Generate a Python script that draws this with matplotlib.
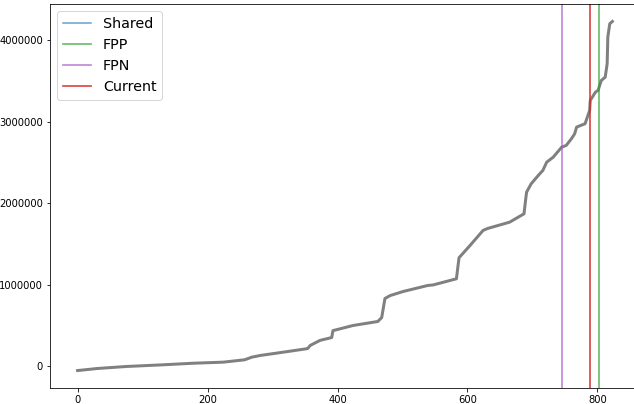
import matplotlib
matplotlib.use('Agg')
import matplotlib.pyplot as plt

# sorted score curve (index, value)
curve_x = [0, 30, 75, 130, 178, 224, 257, 268, 281, 316, 352, 354, 358, 373, 391, 393, 424, 462,
           468, 473, 481, 501, 539, 547, 583, 587, 604, 624, 631, 665, 687, 690, 691,
           698, 709, 716, 722, 732, 745, 752, 760, 765, 768, 781, 788, 789, 797, 801,
           806, 812, 815, 816, 819, 823]
curve_y = [-50000, -25000, 0, 20000, 40000, 53000, 82000, 114000, 135000, 175000, 217000,
           220000, 258000, 320000, 355000, 440000, 503000, 552000, 600000, 834000, 870000,
           920000, 994000, 1000000, 1076000, 1334000, 1485000, 1669000, 1693000, 1771000,
           1873000, 2077000, 2139000, 2241000, 2344000, 2405000, 2507000, 2568000, 2691000,
           2712000, 2794000, 2855000, 2937000, 2978000, 3141000, 3264000, 3366000, 3387000,
           3509000, 3550000, 3714000, 4040000, 4205000, 4233000]

# cut-off positions
markers = ['Shared', 'FPP', 'FPN', 'Current']
marker_pos = [None, 802, 745, 789]
marker_colors = ['tab:blue', 'tab:green', '#a855c4', 'tab:red']
marker_alpha = [0.7, 0.7, 0.7, 0.85]

fig = plt.figure(figsize=(634 / 72, 404 / 72), dpi=72)
ax = fig.add_axes([50 / 634, 16 / 404, 589 / 634, 384 / 404])

ax.plot(curve_x, curve_y, color='gray', lw=3, zorder=1)

for name, pos, c, a in zip(markers, marker_pos, marker_colors, marker_alpha):
    if pos is None:
        ax.plot([], [], color=c, alpha=a, label=name)
    else:
        ax.axvline(pos, color=c, alpha=a, lw=1.7, label=name, zorder=2)

ax.set_xlim(-42.5, 864)
ax.set_ylim(-264000, 4447000)
ax.set_xticks([0, 200, 400, 600, 800])
ax.ticklabel_format(axis='y', style='plain')
ax.tick_params(labelsize=10)
ax.legend(loc='upper left', fontsize=14.3)

plt.savefig('out.png', dpi=72)
